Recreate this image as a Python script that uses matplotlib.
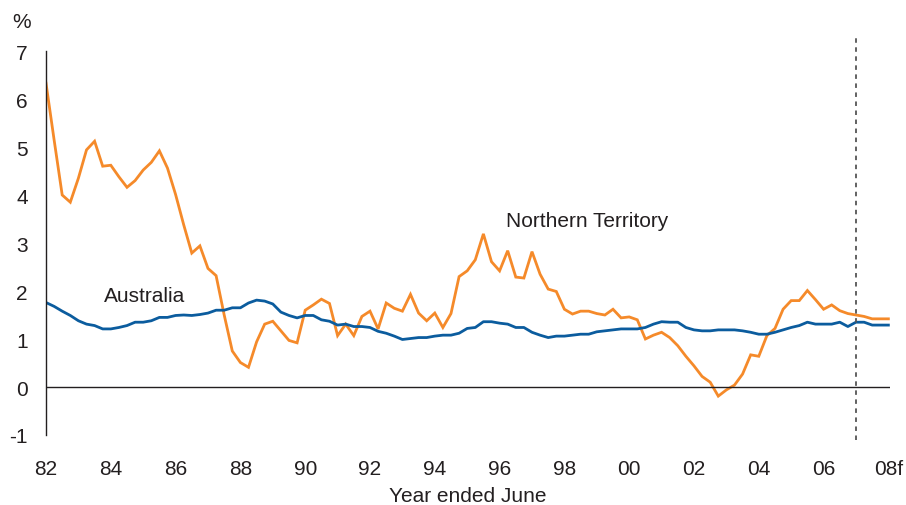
import matplotlib.pyplot as plt
import numpy as np

plt.rcParams['font.family'] = ['Liberation Sans', 'DejaVu Sans']
plt.rcParams['axes.unicode_minus'] = False

# quarterly, from 1982 to 2008 (last quarters are forecasts)
start_year = 1982
nt = [6.33, 5.15, 4.00, 3.85, 4.35, 4.94, 5.12, 4.60, 4.62, 4.38,
      4.16, 4.30, 4.52, 4.68, 4.92, 4.56, 4.01, 3.38, 2.79, 2.94,
      2.47, 2.32, 1.50, 0.75, 0.51, 0.41, 0.94, 1.31, 1.37, 1.17,
      0.97, 0.92, 1.60, 1.71, 1.83, 1.74, 1.07, 1.31, 1.07, 1.47,
      1.58, 1.21, 1.75, 1.64, 1.58, 1.93, 1.54, 1.38, 1.54, 1.24,
      1.53, 2.30, 2.42, 2.65, 3.19, 2.61, 2.42, 2.84, 2.29, 2.27,
      2.82, 2.35, 2.04, 1.99, 1.62, 1.52, 1.58, 1.58, 1.53, 1.50,
      1.62, 1.44, 1.46, 1.40, 1.00, 1.08, 1.14, 1.03, 0.86, 0.64,
      0.44, 0.22, 0.10, -0.19, -0.06, 0.04, 0.27, 0.67, 0.64, 1.07,
      1.22, 1.62, 1.80, 1.80, 2.01, 1.82, 1.62, 1.71, 1.59, 1.53,
      1.50, 1.47, 1.42, 1.42, 1.42]
aus = [1.76, 1.68, 1.58, 1.49, 1.38, 1.31, 1.28, 1.21, 1.21, 1.24,
       1.28, 1.35, 1.35, 1.38, 1.45, 1.45, 1.49, 1.50, 1.49, 1.51,
       1.54, 1.60, 1.60, 1.65, 1.65, 1.75, 1.81, 1.79, 1.73, 1.56,
       1.49, 1.44, 1.49, 1.49, 1.40, 1.37, 1.29, 1.31, 1.26, 1.26,
       1.24, 1.16, 1.12, 1.06, 0.99, 1.01, 1.03, 1.03, 1.06, 1.08,
       1.08, 1.12, 1.22, 1.24, 1.36, 1.36, 1.33, 1.31, 1.24, 1.24,
       1.14, 1.08, 1.03, 1.06, 1.06, 1.08, 1.10, 1.10, 1.15, 1.17,
       1.19, 1.21, 1.21, 1.21, 1.24, 1.31, 1.36, 1.35, 1.35, 1.24,
       1.19, 1.17, 1.17, 1.19, 1.19, 1.19, 1.17, 1.14, 1.10, 1.10,
       1.14, 1.19, 1.24, 1.28, 1.35, 1.31, 1.31, 1.31, 1.35, 1.26,
       1.35, 1.35, 1.29, 1.29, 1.29]
forecast_start = 2007.0
xtick_years = list(range(1982, 2009, 2))
xtick_labels = ['82', '84', '86', '88', '90', '92', '94', '96', '98',
                '00', '02', '04', '06', '08f']

x = start_year + np.arange(len(nt)) * 0.25

fig = plt.figure(figsize=(9.06, 5.06), dpi=100)
ax = fig.add_axes([46 / 906, 1 - 436 / 506, 844 / 906, 384 / 506])

txt = '#231f20'
fs = 15
ax.plot(x, nt, color='#f58a2a', lw=2.0, solid_joinstyle='miter')
ax.plot(x, aus, color='#0b5c9e', lw=2.0)
ax.axhline(0, color='#231f20', lw=1.0)
ax.plot([forecast_start, forecast_start], [-1.1, 7.35], color='#555555',
        lw=1.3, ls=(0, (2.5, 2.5)), clip_on=False)

ax.set_xlim(1982, 2008.05)
ax.set_ylim(-1, 7)
for s in ['top', 'right', 'bottom']:
    ax.spines[s].set_visible(False)
ax.spines['left'].set_color('#231f20')
ax.spines['left'].set_linewidth(1.0)

ax.set_xticks(xtick_years)
ax.set_xticklabels(xtick_labels)
ax.set_yticks(range(-1, 8))
ax.tick_params(axis='x', length=0, pad=17, labelsize=fs, labelcolor=txt)
ax.tick_params(axis='y', length=0, pad=13, labelsize=fs, labelcolor=txt)
ax.set_xlabel('Year ended June', fontsize=fs, color=txt, labelpad=6)

fig.text(22 / 906, 1 - 22 / 506, '%', fontsize=fs, color=txt,
         ha='center', va='center')
ax.text(1983.8, 1.9, 'Australia', fontsize=fs, color=txt, va='center')
ax.text(1996.2, 3.46, 'Northern Territory', fontsize=fs, color=txt,
        va='center')

fig.savefig('out.png', dpi=100)
